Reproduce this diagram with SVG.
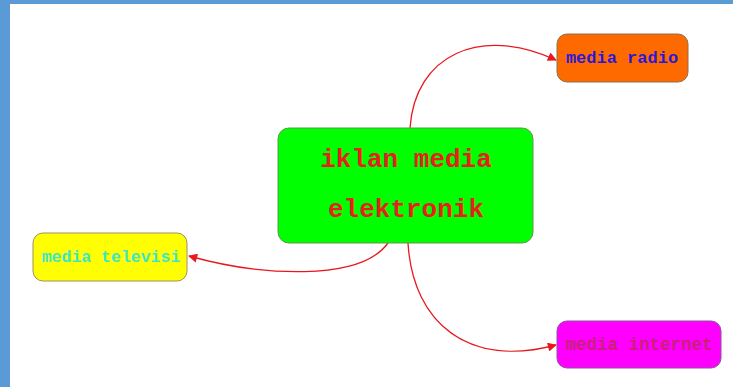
<svg xmlns="http://www.w3.org/2000/svg" width="733" height="387" viewBox="0 0 733 387">
<style>
text{font-family:"Liberation Mono","Courier New",monospace;text-anchor:middle;dominant-baseline:central;font-weight:bold}
.edge{fill:none;stroke:#e8181c;stroke-width:1.3}
</style>
<defs>
<marker id="arr" viewBox="0 0 10 10" refX="9" refY="5" markerWidth="10" markerHeight="9" markerUnits="userSpaceOnUse" orient="auto">
<path d="M0,0 L10,5 L0,10 z" fill="#e8181c"/>
</marker>
</defs>
<rect x="0" y="0" width="733" height="387" fill="#ffffff"/>
<rect x="0" y="0" width="733" height="4" fill="#5b9bd5"/>
<rect x="0" y="0" width="10" height="387" fill="#5b9bd5"/>
<g id="connectors">
<path class="edge" d="M410,128 C415,55 480,25 556,60" marker-end="url(#arr)"/>
<path class="edge" d="M388,243 C360,282 260,276 189,256" marker-end="url(#arr)"/>
<path class="edge" d="M408,243 C413,325 470,368 556,345" marker-end="url(#arr)"/>
</g>
<g id="node-center">
<rect x="278" y="128" width="255" height="115" rx="11" fill="#00ff00" stroke="#5a9a4a" stroke-width="1"/>
<text x="406" y="160" font-size="26" fill="#e8201c">iklan media</text>
<text x="406" y="210" font-size="26" fill="#e8201c">elektronik</text>
</g>
<g id="node-radio">
<rect x="557" y="34" width="131" height="48" rx="10" fill="#ff6a00" stroke="#8a7050" stroke-width="1"/>
<text x="622" y="58" font-size="17" fill="#2a18d8">media radio</text>
</g>
<g id="node-televisi">
<rect x="33" y="233" width="154" height="48" rx="10" fill="#ffff00" stroke="#a09060" stroke-width="1"/>
<text x="111" y="257" font-size="16.5" fill="#3ce8c8">media televisi</text>
</g>
<g id="node-internet">
<rect x="557" y="321" width="164" height="47" rx="10" fill="#ff00ff" stroke="#9050a0" stroke-width="1"/>
<text x="639" y="345" font-size="17.5" fill="#c8207a">media internet</text>
</g>
</svg>
